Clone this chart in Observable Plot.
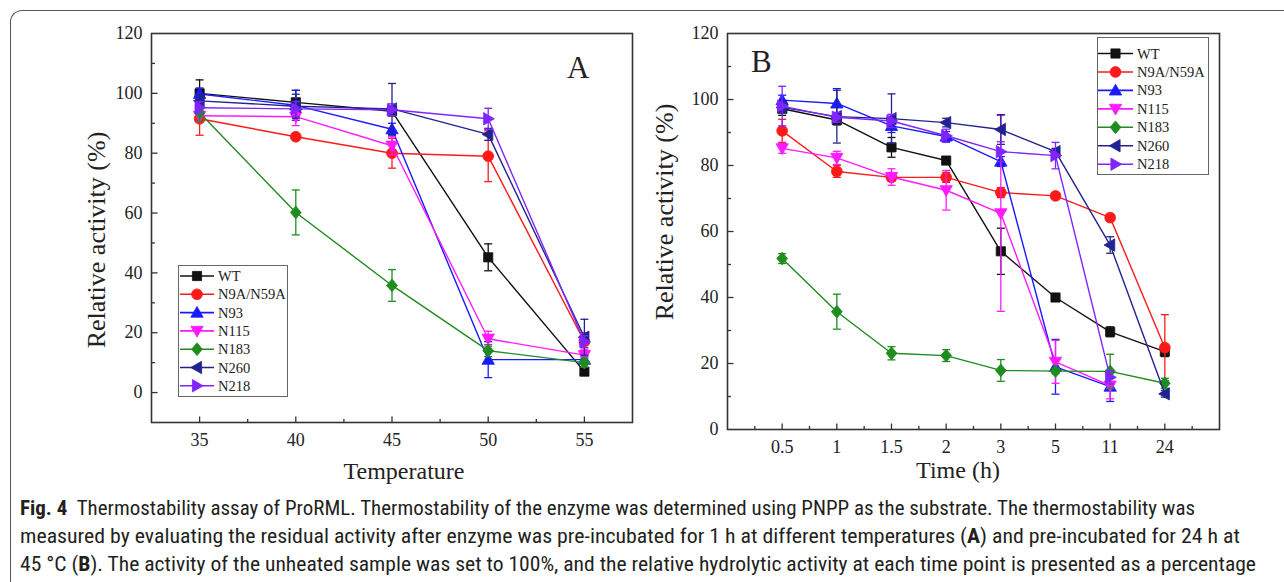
<!DOCTYPE html>
<html><head><meta charset="utf-8">
<script src="https://cdn.jsdelivr.net/npm/d3@7"></script>
<script src="https://cdn.jsdelivr.net/npm/@observablehq/plot@0.6"></script>
<style>
body{margin:0;background:#fff;}
#root{position:relative;width:1284px;height:582px;overflow:hidden;font-family:"Liberation Serif",serif;color:#222;}
.abs{position:absolute;white-space:nowrap;}
.cap{position:absolute;left:20px;white-space:nowrap;font-family:"Roboto Condensed","Liberation Sans Narrow","DejaVu Sans Condensed","Roboto",sans-serif;font-size:19.5px;line-height:20px;color:#231f20;transform-origin:0 50%;}
</style></head><body><div id="root"></div>
<script>
// ---------- data ----------
const seriesNames = ["WT","N9A/N59A","N93","N115","N183","N260","N218"];
const seriesColors = ["#111111","#ff1a1a","#1a1aff","#ff1aff","#1f8c1f","#232390","#8025ff"];
const seriesShapes = ["square","circle","up","down","diamond","left","right"];

// Panel A: temperature
const tempA = [35, 40, 45, 50, 55];
const A_WT = [100, 97, 94, 45.2, 7];        const A_WT_err = [4.5, 4, 1.5, 4.5, 1];
const A_N9A = [91.5, 85.5, 80, 79, 17];      const A_N9A_err = [5.5, 1, 5, 8.5, 3];
const A_N93 = [99.8, 96, 88, 11, 11];        const A_N93_err = [2, 5, 2, 6, 1];
const A_N115 = [92.5, 92.2, 82.5, 18, 12.5]; const A_N115_err = [2, 3, 3, 2.5, 2];
const A_N183 = [93.5, 60.2, 35.8, 14, 10];   const A_N183_err = [3, 7.5, 5.3, 2, 1.5];
const A_N260 = [97.5, 95.7, 94.8, 86.3, 18.5]; const A_N260_err = [2, 4, 8.5, 2, 6];
const A_N218 = [95.2, 94.8, 94.5, 91.5, 17]; const A_N218_err = [2, 2.5, 2, 3.5, 2];

// Panel B: time (h), categorical positions
const timeLabels = ["0.5","1","1.5","2","3","5","11","24"];
const B_WT = [97.2, 93.8, 85.5, 81.5, 54, 40, 29.6, 23.6];      const B_WT_err = [2, 1.5, 3, 1, 7, 1, 1.5, 1.5];
const B_N9A = [90.5, 78.2, 76.4, 76.4, 71.8, 70.8, 64.2, 24.8]; const B_N9A_err = [3.5, 1.8, 1.2, 1.5, 1.5, 0.8, 1, 10];
const B_N93 = [99.8, 98.8, 92, 88.8, 81.2, 19, 13, null];       const B_N93_err = [1.5, 4.5, 2, 1.5, 1.5, 8.3, 4.5, null];
const B_N115 = [85.2, 82.3, 76.5, 72.5, 65.5, 20.5, 13.3, null]; const B_N115_err = [1.5, 2, 2.5, 6, 29.7, 6.5, 4, null];
const B_N183 = [51.8, 35.7, 23.1, 22.4, 17.9, 17.7, 17.6, 14];  const B_N183_err = [1.5, 5.3, 2, 1.8, 3.3, 0.8, 5.2, 1.5];
const B_N260 = [97.6, 94.8, 94.2, 93, 90.9, 84.2, 55.9, 10.8];  const B_N260_err = [1.5, 8, 7.5, 1.3, 4.5, 1, 2.5, 1];
const B_N218 = [98, 94.6, 93.5, 89, 84.2, 83, 15.8, null];      const B_N218_err = [6, 1.5, 2, 2, 3, 4, 2, null];

const yTicksMajor = [0, 20, 40, 60, 80, 100, 120];
const yTicksMinor = [10, 30, 50, 70, 90, 110];
const xMinorA = [37.5, 42.5, 47.5, 52.5];

const A_vals = [A_WT, A_N9A, A_N93, A_N115, A_N183, A_N260, A_N218];
const A_errs = [A_WT_err, A_N9A_err, A_N93_err, A_N115_err, A_N183_err, A_N260_err, A_N218_err];
const B_vals = [B_WT, B_N9A, B_N93, B_N115, B_N183, B_N260, B_N218];
const B_errs = [B_WT_err, B_N9A_err, B_N93_err, B_N115_err, B_N183_err, B_N260_err, B_N218_err];

// ---------- symbols ----------
function shapeSym(kind) {
  return {draw(ctx) {
    const s = 4.6;
    switch (kind) {
      case "square": ctx.rect(-s, -s, 2*s, 2*s); break;
      case "circle": ctx.moveTo(5.4, 0); ctx.arc(0, 0, 5.4, 0, 2*Math.PI); break;
      case "diamond": ctx.moveTo(0,-6.4); ctx.lineTo(5.4,0); ctx.lineTo(0,6.4); ctx.lineTo(-5.4,0); ctx.closePath(); break;
      case "up": ctx.moveTo(0,-6.2); ctx.lineTo(6.2,4.6); ctx.lineTo(-6.2,4.6); ctx.closePath(); break;
      case "down": ctx.moveTo(0,6.2); ctx.lineTo(6.2,-4.6); ctx.lineTo(-6.2,-4.6); ctx.closePath(); break;
      case "left": ctx.moveTo(-6.2,0); ctx.lineTo(4.6,-6.2); ctx.lineTo(4.6,6.2); ctx.closePath(); break;
      case "right": ctx.moveTo(6.2,0); ctx.lineTo(-4.6,-6.2); ctx.lineTo(-4.6,6.2); ctx.closePath(); break;
    }
  }};
}
const capSym = {draw(ctx){ ctx.moveTo(-4,0); ctx.lineTo(4,0); }};
const tickRight = L => ({draw(ctx){ ctx.moveTo(0,0); ctx.lineTo(L,0); }});
const tickUp = L => ({draw(ctx){ ctx.moveTo(0,0); ctx.lineTo(0,-L); }});

// ---------- panels ----------
function panel({xs, vals, errs, xDomain, yDomain, xTicks, xFmt, xMinor, width, height, margins}) {
  const [xmin] = xDomain, [ymin] = yDomain;
  const marks = [
    Plot.frame({stroke: "#333", strokeWidth: 1.6}),
    Plot.dot(yTicksMajor.filter(v => v > ymin && v < yDomain[1]), {x: () => xmin, y: d => d, symbol: tickRight(6), stroke: "#333", fill: "none", strokeWidth: 1.3}),
    Plot.dot(yTicksMinor, {x: () => xmin, y: d => d, symbol: tickRight(3.5), stroke: "#333", fill: "none", strokeWidth: 1.3}),
    Plot.dot(xTicks, {x: d => d, y: () => ymin, symbol: tickUp(6), stroke: "#333", fill: "none", strokeWidth: 1.3}),
    Plot.dot(xMinor, {x: d => d, y: () => ymin, symbol: tickUp(3.5), stroke: "#333", fill: "none", strokeWidth: 1.3}),
    Plot.axisY({ticks: yTicksMajor, tickSize: 0, tickPadding: 9, label: null}),
    Plot.axisX({ticks: xTicks, tickSize: 0, tickPadding: 11, tickFormat: xFmt, label: null})
  ];
  seriesNames.forEach((name, s) => {
    const rows = xs.map((x, i) => ({x, y: vals[s][i], e: errs[s][i]})).filter(r => r.y != null);
    const er = rows.filter(r => r.e > 0);
    const c = seriesColors[s];
    marks.push(
      Plot.line(rows, {x: "x", y: "y", stroke: c, strokeWidth: 1.4}),
      Plot.ruleX(er, {x: "x", y1: r => r.y - r.e, y2: r => r.y + r.e, stroke: c, strokeWidth: 1.3}),
      Plot.dot(er, {x: "x", y: r => r.y + r.e, symbol: capSym, stroke: c, fill: "none", strokeWidth: 1.3}),
      Plot.dot(er, {x: "x", y: r => r.y - r.e, symbol: capSym, stroke: c, fill: "none", strokeWidth: 1.3}),
      Plot.dot(rows, {x: "x", y: "y", symbol: shapeSym(seriesShapes[s]), fill: c, stroke: c, strokeWidth: 0.8})
    );
  });
  return Plot.plot({
    width, height, ...margins,
    x: {domain: xDomain, label: null},
    y: {domain: yDomain, label: null},
    style: {fontFamily: "Liberation Serif, serif", fontSize: "18px", background: "transparent", overflow: "visible", color: "#222"},
    marks
  });
}

const root = document.getElementById("root");

const border = document.createElement("div");
border.className = "abs";
Object.assign(border.style, {left: "10px", top: "10px", width: "1320px", height: "620px", borderTop: "1.5px solid #555", borderLeft: "1.5px solid #555", borderTopLeftRadius: "12px"});
root.appendChild(border);

const plotA = panel({
  xs: tempA, vals: A_vals, errs: A_errs,
  xDomain: [32.5, 57.5], yDomain: [-10, 120],
  xTicks: tempA, xFmt: d => String(d), xMinor: xMinorA,
  width: 660, height: 500,
  margins: {marginLeft: 151, marginRight: 28, marginTop: 33, marginBottom: 78}
});
plotA.style.position = "absolute"; plotA.style.left = "0px"; plotA.style.top = "0px";
root.appendChild(plotA);

const idxB = timeLabels.map((_, i) => i + 1);
const plotB = panel({
  xs: idxB, vals: B_vals, errs: B_errs,
  xDomain: [0, timeLabels.length + 1], yDomain: [0, 120],
  xTicks: idxB, xFmt: i => timeLabels[i - 1], xMinor: d3.range(0.5, timeLabels.length + 1, 1),
  width: 600, height: 500,
  margins: {marginLeft: 67, marginRight: 41, marginTop: 33, marginBottom: 71}
});
plotB.style.position = "absolute"; plotB.style.left = "660px"; plotB.style.top = "0px";
root.appendChild(plotB);

// ---------- legends ----------
function legend(left, top, w, h, rowY0, step, lineX0, lineX1, textX) {
  const svg = d3.select(root).append("svg").attr("class", "abs")
    .style("left", left + "px").style("top", top + "px").attr("width", w + 2).attr("height", h + 2);
  svg.append("rect").attr("x", 0.5).attr("y", 0.5).attr("width", w).attr("height", h)
    .attr("fill", "#fff").attr("stroke", "#666").attr("stroke-width", 1);
  seriesNames.forEach((name, s) => {
    const y = rowY0 + s * step;
    const c = seriesColors[s];
    svg.append("line").attr("x1", lineX0).attr("x2", lineX1).attr("y1", y).attr("y2", y).attr("stroke", c).attr("stroke-width", 1.6);
    svg.append("path").attr("d", d3.symbol().type(shapeSym(seriesShapes[s]))()).attr("transform", `translate(${(lineX0 + lineX1) / 2},${y})`).attr("fill", c).attr("stroke", c).attr("stroke-width", 0.8);
    svg.append("text").attr("x", textX).attr("y", y + 5).text(name).attr("fill", "#222")
      .style("font-family", "Liberation Serif, serif").style("font-size", "14.5px");
  });
}
legend(178, 265, 109, 131, 11, 18.3, 2, 36, 40);
legend(1097, 37, 111, 137, 16.5, 18.45, 1, 36, 40);

// ---------- text ----------
function addText(txt, css) {
  const d = document.createElement("div");
  d.className = "abs"; d.textContent = txt;
  Object.assign(d.style, css);
  root.appendChild(d);
  return d;
}
addText("A", {left: "567px", top: "50px", fontSize: "31px"});
addText("B", {left: "751px", top: "44px", fontSize: "31px"});
addText("Temperature", {left: "404px", top: "458px", fontSize: "24px", transform: "translateX(-50%)"});
addText("Time (h)", {left: "958px", top: "457px", fontSize: "24px", transform: "translateX(-50%)"});
addText("Relative activity (%)", {left: "97px", top: "240px", fontSize: "26px", transform: "translate(-50%,-50%) rotate(-90deg)"});
addText("Relative activity (%)", {left: "665px", top: "212px", fontSize: "26px", transform: "translate(-50%,-50%) rotate(-90deg)"});

// ---------- caption ----------
const capLines = [
  {html: "<b>Fig. 4</b>&ensp;Thermostability assay of ProRML. Thermostability of the enzyme was determined using PNPP as the substrate. The thermostability was", top: 499, right: 1195},
  {html: "measured by evaluating the residual activity after enzyme was pre-incubated for 1 h at different temperatures (<b>A</b>) and pre-incubated for 24 h at", top: 527, right: 1240},
  {html: "45 °C (<b>B</b>). The activity of the unheated sample was set to 100%, and the relative hydrolytic activity at each time point is presented as a percentage", top: 555, right: 1256}
];
capLines.forEach(l => {
  const d = document.createElement("div");
  d.className = "cap"; d.innerHTML = l.html; d.style.top = l.top + "px";
  root.appendChild(d);
  const w = d.getBoundingClientRect().width;
  d.style.transform = `scaleX(${(l.right - 20) / w})`;
});
</script></body></html>
